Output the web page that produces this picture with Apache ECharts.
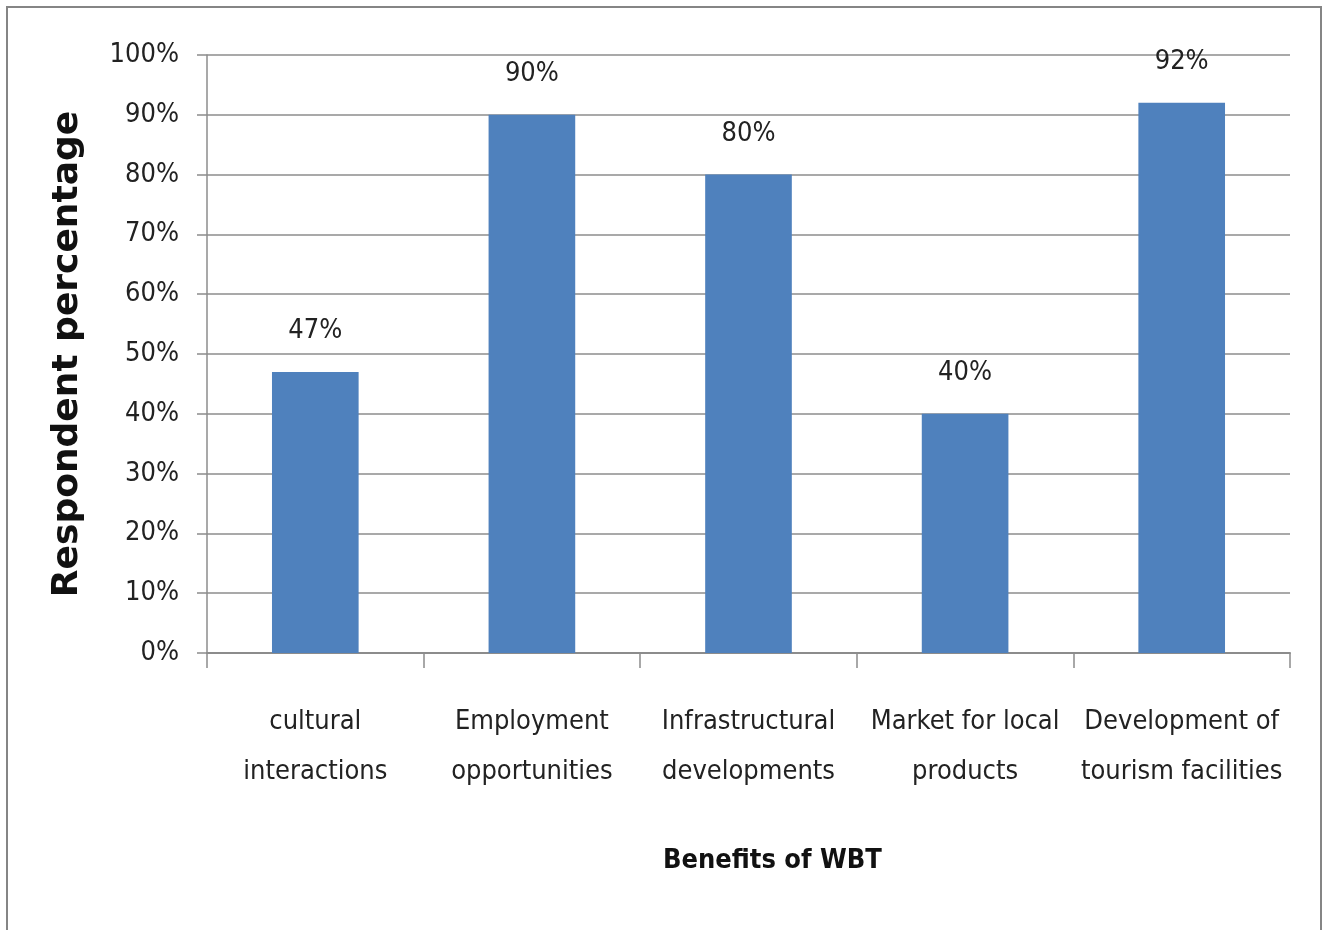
<!DOCTYPE html>
<html>
<head>
<meta charset="utf-8">
<script src="https://cdn.jsdelivr.net/npm/echarts@6/dist/echarts.min.js"></script>
<style>
  html, body { margin: 0; padding: 0; background: #ffffff; }
  #frame {
    position: absolute; left: 6px; top: 6px; width: 1316px; height: 940px;
    border: 2px solid #858585; box-sizing: border-box;
  }
  #chart { position: absolute; left: 0; top: 0; width: 1325px; height: 930px; }
</style>
</head>
<body>
<div id="frame"></div>
<div id="chart"></div>
<script>
// Survey results: share of respondents naming each benefit
const categories = [
  'cultural\ninteractions',
  'Employment\nopportunities',
  'Infrastructural\ndevelopments',
  'Market for local\nproducts',
  'Development of\ntourism facilities'
];
const respondentPct = [47, 90, 80, 40, 92];
const yTicks = { min: 0, max: 100, step: 10 };

const narrow = '"Liberation Sans Narrow", "DejaVu Sans Condensed", sans-serif';
const axisGray = '#8c8c8c';

const chart = echarts.init(document.getElementById('chart'), null, { renderer: 'canvas' });
chart.setOption({
  backgroundColor: 'transparent',
  animation: false,
  grid: { left: 207, right: 35, top: 55, bottom: 277, containLabel: false },
  xAxis: {
    type: 'category',
    data: categories,
    name: 'Benefits of WBT',
    nameLocation: 'middle',
    nameGap: 194,
    nameTextStyle: {
      fontFamily: narrow, fontWeight: 'bold', fontSize: 27, color: '#111',
      padding: [0, 0, 0, 48]
    },
    axisLine: { show: true, lineStyle: { color: axisGray, width: 2 } },
    axisTick: { show: true, alignWithLabel: false, length: 15, lineStyle: { color: axisGray, width: 1.5 } },
    axisLabel: {
      fontFamily: narrow, fontSize: 27, color: '#222', lineHeight: 50, margin: 44,
      interval: 0
    }
  },
  yAxis: {
    type: 'value',
    min: yTicks.min, max: yTicks.max, interval: yTicks.step,
    name: 'Respondent percentage',
    nameLocation: 'middle',
    nameGap: 121,
    nameRotate: 90,
    nameTextStyle: { fontFamily: '"DejaVu Sans", sans-serif', fontWeight: 'bold', fontSize: 36, color: '#111' },
    axisLine: { show: true, lineStyle: { color: axisGray, width: 1.5 } },
    axisTick: { show: true, length: 10, lineStyle: { color: axisGray, width: 1.5 } },
    axisLabel: {
      fontFamily: narrow, fontSize: 27, color: '#222', margin: 28,
      formatter: v => v + '%'
    },
    splitLine: { show: true, lineStyle: { color: axisGray, width: 1.5 } }
  },
  series: [{
    type: 'bar',
    data: respondentPct,
    barWidth: '40%',
    itemStyle: { color: '#4f81bd' },
    label: {
      show: true, position: 'top', distance: 27,
      fontFamily: narrow, fontSize: 27, color: '#222',
      formatter: p => p.value + '%'
    }
  }]
});
</script>
</body>
</html>
